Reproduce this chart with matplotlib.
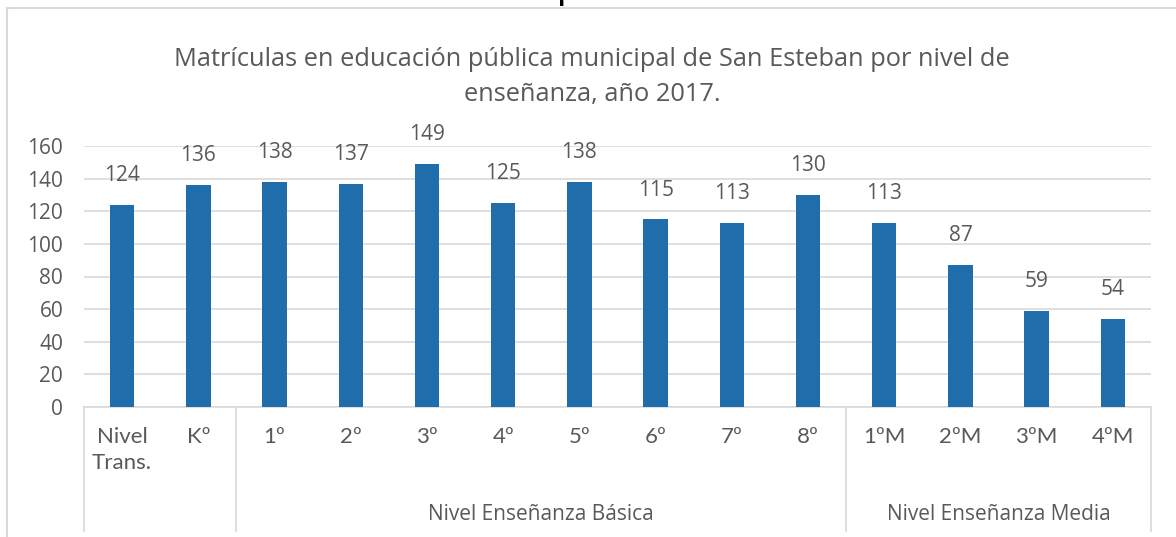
import matplotlib.pyplot as plt
import matplotlib.transforms as mtransforms
from matplotlib.patches import Rectangle

# datos
categorias = ["Nivel\nTrans.", "Kº", "1º", "2º", "3º", "4º", "5º", "6º", "7º", "8º",
              "1ºM", "2ºM", "3ºM", "4ºM"]
matriculas = [124, 136, 138, 137, 149, 125, 138, 115, 113, 130, 113, 87, 59, 54]
grupos = ["", "Nivel Enseñanza Básica", "Nivel Enseñanza Media"]
grupo_tamano = [2, 8, 4]

titulo = "Matrículas en educación pública municipal de San Esteban por nivel de\nenseñanza, año 2017."
titulo_doc = "Gráfico 4: Matrículas por nivel de educación 2017"

plt.rcParams['font.family'] = ['Open Sans', 'DejaVu Sans']
gris_txt = '#595959'
gris_lin = '#D9D9D9'
azul = '#1F6DAA'
cat_font = ['Lato', 'DejaVu Sans']

W, H = 1176, 537
fig = plt.figure(figsize=(W / 100, H / 100), dpi=100)

def fy(p):
    return 1 - p / H

ax = fig.add_axes([84 / W, fy(407), (1151 - 84) / W, (407 - 146) / H])

x = list(range(len(categorias)))
ax.bar(x, matriculas, width=0.32, color=azul, zorder=3)
for xi, v in zip(x, matriculas):
    ax.annotate(str(v), (xi, v), xytext=(0, 21), textcoords='offset points',
                ha='center', va='center', fontsize=15, color=gris_txt)

ax.set_xlim(-0.5, len(categorias) - 0.5)
ax.set_ylim(0, 160)
ax.set_yticks(range(0, 161, 20))
ax.tick_params(axis='y', length=0, labelsize=15, labelcolor=gris_txt, pad=15)
ax.set_xticks([])
ax.grid(axis='y', color=gris_lin, lw=1.2, zorder=0)
for s in ['top', 'right', 'left']:
    ax.spines[s].set_visible(False)
ax.spines['bottom'].set_color(gris_lin)
ax.spines['bottom'].set_linewidth(1.2)

# eje de categorias en dos niveles
tr = mtransforms.blended_transform_factory(ax.transData, fig.transFigure)
for xi, c in zip(x, categorias):
    ax.text(xi, fy(427), c, transform=tr, ha='center', va='top', fontsize=16,
            color=gris_txt, linespacing=1.35, family=cat_font)

inicio = -0.5
seps = [inicio]
for g, n in zip(grupos, grupo_tamano):
    fin = inicio + n
    seps.append(fin)
    ax.text((inicio + fin) / 2, fy(514), g, transform=tr, ha='center', va='center',
            fontsize=15, color=gris_txt)
    inicio = fin
for s in seps:
    ax.plot([s, s], [fy(407), fy(531)], transform=tr, color=gris_lin, lw=1.2,
            clip_on=False)

fig.text(592 / W, fy(77), titulo, ha='center', va='center', fontsize=18.3,
         color=gris_txt, linespacing=1.5)

# marco del grafico y titulo del documento cortado arriba
fig.patches.append(Rectangle((7 / W, fy(H + 20)), (W + 20) / W, (H + 12) / H,
                             transform=fig.transFigure, fill=False,
                             edgecolor=gris_lin, lw=1.5))
fig.text(596 / W, fy(0.5), titulo_doc, ha='center', va='baseline', fontsize=17,
         fontweight='bold', color='black')

fig.savefig('out.png', dpi=100)
